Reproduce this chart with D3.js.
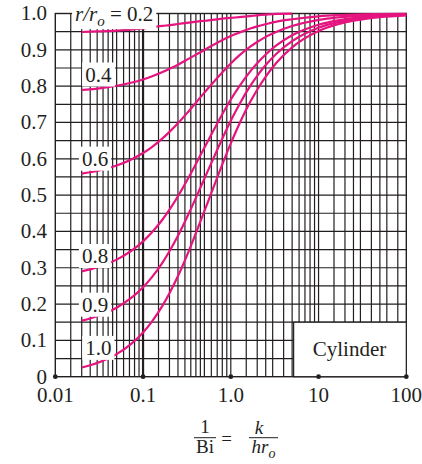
<!DOCTYPE html>
<html><head><meta charset="utf-8">
<script src="https://cdn.jsdelivr.net/npm/d3@7"></script>
<style>
body{margin:0;background:#fff}
svg{display:block}
text{font-family:"Liberation Serif","Times New Roman",serif;fill:#231f20}
</style>
</head><body>
<svg id="c" width="422" height="464"></svg>
<script>
// ---- data ----
const invBi = [0.02, 0.025, 0.0333, 0.05, 0.1, 0.125, 0.1667, 0.2, 0.25, 0.333, 0.5, 1, 1.25, 1.667, 2, 2.5, 3.333, 5, 10, 16.67, 25, 50, 100];
const r02 = [0.949, 0.950, 0.951, 0.953, 0.959, 0.962, 0.966, 0.968, 0.971, 0.975, 0.980, 0.988, 0.990, 0.993, 0.995, 0.997, 0.999, 0.9995, null, null, null, null, null];
const r04 = [0.7894, 0.7913, 0.7946, 0.8011, 0.8184, 0.8264, 0.8387, 0.8477, 0.8591, 0.8758, 0.8997, 0.9379, 0.9473, 0.9588, 0.9645, 0.9706, 0.9778, 0.9842, 0.9922, 0.9953, 0.9968, 0.9984, 0.9992];
const r06 = [0.5590, 0.5629, 0.5692, 0.5814, 0.6160, 0.6317, 0.6561, 0.6741, 0.6978, 0.7318, 0.7822, 0.8625, 0.8845, 0.9086, 0.9214, 0.9356, 0.9499, 0.9655, 0.9825, 0.9894, 0.9929, 0.9964, 0.9982];
const r08 = [0.2901, 0.2955, 0.3046, 0.3223, 0.3727, 0.3963, 0.4329, 0.4600, 0.4969, 0.5498, 0.6305, 0.7631, 0.7994, 0.8406, 0.8628, 0.8870, 0.9127, 0.9399, 0.9690, 0.9812, 0.9873, 0.9936, 0.9968];
const r09 = [0.1545, 0.1604, 0.1703, 0.1900, 0.2461, 0.2727, 0.3143, 0.3453, 0.3880, 0.4498, 0.5451, 0.7050, 0.7497, 0.8005, 0.8282, 0.8580, 0.8899, 0.9238, 0.9609, 0.9762, 0.9840, 0.9919, 0.9960];
const r10 = [0.0252, 0.0314, 0.0417, 0.0621, 0.1219, 0.1505, 0.1958, 0.2298, 0.2771, 0.3466, 0.4557, 0.6426, 0.6958, 0.7568, 0.7902, 0.8263, 0.8650, 0.9068, 0.9518, 0.9707, 0.9802, 0.9901, 0.9950];
const seriesValues = [r02, r04, r06, r08, r09, r10];
const seriesLabels = ["0.2", "0.4", "0.6", "0.8", "0.9", "1.0"];
const labelX = [0.0168, 0.0219, 0.0201, 0.0201, 0.0201, 0.0219];
const labelY = [0.979, 0.8127, 0.581, 0.313, 0.179, 0.060];

const yTicks = [0, 0.1, 0.2, 0.3, 0.4, 0.5, 0.6, 0.7, 0.8, 0.9, 1.0];
const yTickLabels = ["0", "0.1", "0.2", "0.3", "0.4", "0.5", "0.6", "0.7", "0.8", "0.9", "1.0"];
const xTicks = [0.01, 0.1, 1, 10, 100];
const xTickLabels = ["0.01", "0.1", "1.0", "10", "100"];
const yGrid = d3.range(1, 20).map(i => i * 0.05);
const decadeMultipliers = [
  [1.5, 2, 2.5, 3, 3.5, 4, 4.5, 5, 6, 7, 8, 9],
  [1.5, 2, 2.5, 3, 3.5, 4, 4.5, 5, 6, 7, 8, 9],
  [1.5, 2, 2.5, 3, 4, 5, 6, 7, 8, 9],
  [1.5, 2, 2.5, 3, 4, 5, 6, 8]
];
const boxX = [5.2, 100], boxY = [0, 0.15];

// ---- drawing ----
const svg = d3.select("#c");
const x = d3.scaleLog().domain([0.01, 100]).range([55.3, 406.3]);
const y = d3.scaleLinear().domain([0, 1]).range([376.7, 13.5]);
const ink = "#231f20", pink = "#e5147f";

const xGrid = [];
decadeMultipliers.forEach((ms, i) => ms.forEach(m => xGrid.push(xTicks[i] * m)));

const grid = svg.append("g");
grid.selectAll("line.h").data(yGrid).join("line")
  .attr("x1", x(0.01)).attr("x2", x(100))
  .attr("y1", d => y(d)).attr("y2", d => y(d))
  .attr("stroke", ink).attr("stroke-width", 1.2);
grid.selectAll("line.v").data(xGrid.concat([1, 10])).join("line")
  .attr("x1", d => x(d)).attr("x2", d => x(d))
  .attr("y1", y(0)).attr("y2", y(1))
  .attr("stroke", ink).attr("stroke-width", 1.2);
grid.append("line").attr("x1", x(0.1)).attr("x2", x(0.1)).attr("y1", y(0)).attr("y2", y(1))
  .attr("stroke", ink).attr("stroke-width", 2.2);
// frame
grid.append("rect").attr("x", x(0.01)).attr("y", y(1)).attr("width", x(100) - x(0.01)).attr("height", y(0) - y(1))
  .attr("fill", "none").attr("stroke", ink).attr("stroke-width", 1.4);

// cylinder box
svg.append("rect").attr("x", x(boxX[0])).attr("y", y(boxY[1]))
  .attr("width", x(boxX[1]) - x(boxX[0])).attr("height", y(boxY[0]) - y(boxY[1]))
  .attr("fill", "#fff").attr("stroke", ink).attr("stroke-width", 1.2);
svg.append("text").attr("x", (x(boxX[0]) + x(boxX[1])) / 2 - 0.5).attr("y", y(0.056))
  .attr("text-anchor", "middle").attr("font-size", 21).text("Cylinder");

// labels with white backgrounds
const labG = svg.append("g");
seriesLabels.forEach((lab, i) => {
  const g = labG.append("g");
  const t = g.append("text").attr("x", x(labelX[i])).attr("y", y(labelY[i])).attr("font-size", 21);
  if (i === 0) {
    t.append("tspan").attr("font-style", "italic").text("r/r");
    t.append("tspan").attr("font-style", "italic").attr("font-size", 15).attr("dy", 5).text("o");
    t.append("tspan").attr("dy", -5).text(" = " + lab);
  } else {
    t.text(lab);
  }
  const bb = t.node().getBBox();
  g.insert("rect", "text").attr("x", bb.x - 3).attr("y", bb.y - (i === 0 ? 6 : 0))
    .attr("width", bb.width + 6).attr("height", bb.height + (i === 0 ? 6 : 0)).attr("fill", "#fff");
});

// curves
const line = d3.line().defined(d => d[1] != null).x(d => x(d[0])).y(d => y(d[1])).curve(d3.curveMonotoneX);
svg.append("g").selectAll("path").data(seriesValues).join("path")
  .attr("d", vals => line(invBi.map((v, j) => [v, vals[j]])))
  .attr("fill", "none").attr("stroke", pink).attr("stroke-width", 2.2);
labG.raise();

// axis dots
svg.selectAll("circle.dot").data(xTicks).join("circle")
  .attr("cx", d => x(d)).attr("cy", y(0)).attr("r", 2.4).attr("fill", ink);

// tick labels
svg.selectAll("text.yt").data(yTicks).join("text")
  .attr("x", 47).attr("y", d => y(d)).attr("dy", "0.33em")
  .attr("text-anchor", "end").attr("font-size", 21).text((d, i) => yTickLabels[i]);
svg.selectAll("text.xt").data(xTicks).join("text")
  .attr("x", d => x(d)).attr("y", 401.7)
  .attr("text-anchor", "middle").attr("font-size", 21).text((d, i) => xTickLabels[i]);

// axis title: 1/Bi = k/(h r_o)
const tg = svg.append("g").attr("font-size", 19);
tg.append("text").attr("x", 205).attr("y", 433).attr("text-anchor", "middle").text("1");
tg.append("line").attr("x1", 194).attr("x2", 216).attr("y1", 437.7).attr("y2", 437.7).attr("stroke", ink).attr("stroke-width", 1);
tg.append("text").attr("x", 205).attr("y", 453).attr("text-anchor", "middle").text("Bi");
tg.append("text").attr("x", 226.5).attr("y", 444.5).attr("text-anchor", "middle").text("=");
tg.append("text").attr("x", 259).attr("y", 434).attr("text-anchor", "middle").attr("font-style", "italic").text("k");
tg.append("line").attr("x1", 249).attr("x2", 278).attr("y1", 437.7).attr("y2", 437.7).attr("stroke", ink).attr("stroke-width", 1);
const hr = tg.append("text").attr("x", 251.5).attr("y", 453).attr("font-style", "italic");
hr.append("tspan").text("hr");
hr.append("tspan").attr("font-size", 14).attr("dy", 5).text("o");
</script>
</body></html>
